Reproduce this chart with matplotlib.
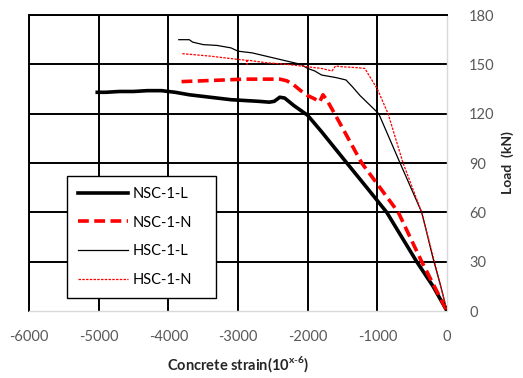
import matplotlib
matplotlib.use("Agg")
import matplotlib.pyplot as plt

plt.rcParams['font.family'] = ['Lato', 'DejaVu Sans']
plt.rcParams['axes.unicode_minus'] = False
plt.rcParams['mathtext.fontset'] = 'custom'
plt.rcParams['mathtext.rm'] = 'Lato'
plt.rcParams['mathtext.bf'] = 'Lato:bold'

# NSC-1-L (thick black)
nsc_l_x = [-5020, -4900, -4700, -4500, -4300, -4100, -3900, -3700, -3500, -3300, -3100,
           -2900, -2700, -2550, -2480, -2400, -2330, -2200, -2100, -2000, -1800, -1438,
           -1150, -865, -435, -200, 0]
nsc_l_y = [133, 133, 133.5, 133.5, 134, 134, 133, 131.5, 130.5, 129.5, 128.5,
           128, 127.5, 127, 127.5, 130, 129.5, 125, 122, 119, 109, 90,
           75, 60, 30, 15, 0]

# NSC-1-N (thick red dashed)
nsc_n_x = [-3810, -3500, -3200, -2900, -2600, -2400, -2300, -2200, -2100, -2000, -1900,
           -1830, -1780, -1720, -1600, -1224, -699, -363, 0]
nsc_n_y = [139.5, 140, 140.5, 141, 141, 141, 140, 137.5, 134, 131, 129,
           127, 131.5, 128, 119, 90, 60, 30, 0]

# HSC-1-L (thin black)
hsc_l_x = [-3850, -3700, -3650, -3500, -3300, -3100, -3000, -2800, -2600, -2500, -2300,
           -2100, -2000, -1900, -1800, -1600, -1450, -1350, -1248, -980, -674, -363,
           -200, -90, 0]
hsc_l_y = [165, 165, 163.5, 162, 161.5, 160, 158, 157, 155, 154, 152,
           150, 147.5, 146, 143.5, 142, 140.5, 136, 131, 120, 90, 60,
           32, 15, 0]

# HSC-1-N (thin red dotted)
hsc_n_x = [-3800, -3400, -3000, -2880, -2870, -2860, -2600, -2300, -2000, -1800, -1650,
           -1600, -1500, -1300, -1180, -1000, -846, -631, -363, -150, 0]
hsc_n_y = [156.5, 155, 153, 152.5, 150, 152.5, 151, 150, 148.5, 147.5, 146,
           149, 148.5, 148, 147.5, 135, 120, 90, 60, 25, 0]

x_ticks = [-6000, -5000, -4000, -3000, -2000, -1000, 0]
y_ticks = [0, 30, 60, 90, 120, 150, 180]

fig = plt.figure(figsize=(5.23, 3.78), dpi=100)
ax = fig.add_axes([0.0554, 0.1772, 0.7993, 0.7831])

# grid (black), except the zero lines which are the light axis lines
for xv in x_ticks[:-1]:
    ax.axvline(xv, color='black', lw=1.4, zorder=1)
for yv in y_ticks[1:]:
    ax.axhline(yv, color='black', lw=1.4, zorder=1)

ax.plot(nsc_l_x, nsc_l_y, color='black', lw=2.6, label='NSC-1-L', zorder=3)
ax.plot(nsc_n_x, nsc_n_y, color='#ff0000', lw=2.6, ls=(0, (3, 1.5)), label='NSC-1-N', zorder=3)
ax.plot(hsc_l_x, hsc_l_y, color='black', lw=0.9, label='HSC-1-L', zorder=3)
ax.plot(hsc_n_x, hsc_n_y, color='#ff0000', lw=0.9, ls=(0, (2, 1)), label='HSC-1-N', zorder=3)

ax.set_xlim(-6000, 0)
ax.set_ylim(0, 180)
ax.set_xticks(x_ticks)
ax.set_yticks(y_ticks)
ax.yaxis.tick_right()
ax.yaxis.set_label_position('right')
ax.tick_params(axis='both', length=0, labelsize=10.5, labelcolor='#595959')
ax.tick_params(axis='x', pad=14)
ax.tick_params(axis='y', pad=16)

for s in ['left', 'top']:
    ax.spines[s].set_color('black')
    ax.spines[s].set_linewidth(1.4)
for s in ['right', 'bottom']:
    ax.spines[s].set_color('#d9d9d9')
    ax.spines[s].set_linewidth(1.0)

ax.set_xlabel(r'Concrete strain(10$^{\mathbf{x\text{-}6}}$)', fontsize=10.5,
              fontweight='bold', color='#262626', labelpad=7)
ax.set_ylabel('Load  (kN)', fontsize=10, fontweight='bold', color='#262626',
              labelpad=5, rotation=90)

leg = ax.legend(loc='upper left', bbox_to_anchor=(0.091, 0.0, 0.356, 0.456), mode='expand',
                borderaxespad=0, fancybox=False, shadow=False, framealpha=1,
                edgecolor='black', fontsize=10.5, handlelength=3.4, handletextpad=0.35,
                labelspacing=1.0, borderpad=0.75)
leg.get_frame().set_linewidth(1.0)

fig.savefig('out.png', dpi=100)
